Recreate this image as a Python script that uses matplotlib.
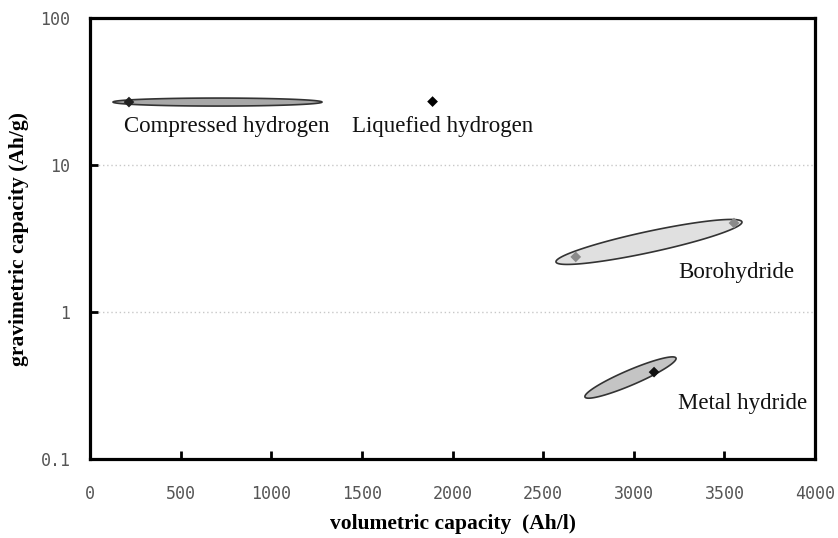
import numpy as np
import matplotlib
matplotlib.use("Agg")
import matplotlib.pyplot as plt
from matplotlib.patches import Polygon

# ---- data ----
point_labels = ["Compressed hydrogen", "Liquefied hydrogen", "Borohydride", "Borohydride", "Metal hydride"]
point_x = [215, 1890, 2680, 3553, 3112]
point_y = [26.8, 27.0, 2.37, 4.03, 0.39]
point_colors = ["#222222", "#000000", "#8a8a8a", "#8a8a8a", "#111111"]

# ellipse regions: endpoints (x1, y1) -> (x2, y2)
region_names = ["Compressed hydrogen", "Borohydride", "Metal hydride"]
region_x1 = [127, 2571, 2731]
region_y1 = [26.8, 2.19, 0.264]
region_x2 = [1280, 3597, 3233]
region_y2 = [26.8, 4.10, 0.486]

label_texts = ["Compressed hydrogen", "Liquefied hydrogen", "Borohydride", "Metal hydride"]
label_x = [188, 1446, 3244, 3244]
label_y = [18.4, 18.4, 1.87, 0.237]

x_ticks = [0, 500, 1000, 1500, 2000, 2500, 3000, 3500, 4000]
y_ticks = [0.1, 1, 10, 100]
y_ticklabels = ["0.1", "1", "10", "100"]

# ---- styles ----
region_half_px = [4.0, 10.5, 7.5]
region_fill = ["#a8a8a8", "#e0e0e0", "#c4c4c4"]

fig = plt.figure(figsize=(8.38, 5.38), dpi=100)
ax = fig.add_axes([90/838, 1 - 459/538, (815-90)/838, (459-18)/538])
ax.set_yscale("log")
ax.set_xlim(0, 4000)
ax.set_ylim(0.1, 100)

for s in ax.spines.values():
    s.set_linewidth(2.3)
    s.set_color("black")

ax.set_xticks(x_ticks)
ax.set_yticks(y_ticks)
ax.set_yticklabels(y_ticklabels)
ax.yaxis.set_minor_locator(matplotlib.ticker.NullLocator())
ax.tick_params(axis="both", direction="in", length=6, width=2.0, color="black",
               labelcolor="#555555", labelsize=12)
ax.tick_params(axis="x", pad=19)
ax.tick_params(axis="y", pad=14)
for lab in ax.get_xticklabels() + ax.get_yticklabels():
    lab.set_family("DejaVu Sans Mono")

for yv in [1, 10]:
    ax.axhline(yv, color="#c8c8c8", linestyle=(0, (1, 2)), linewidth=1.0, zorder=0)

fig.canvas.draw()

# ellipses built in display space then mapped back to data
t = np.linspace(0, 2*np.pi, 200)
for x1, y1, x2, y2, hw, fc in zip(region_x1, region_y1, region_x2, region_y2,
                                  region_half_px, region_fill):
    p1 = ax.transData.transform((x1, y1))
    p2 = ax.transData.transform((x2, y2))
    c = (p1 + p2) / 2
    d = p2 - p1
    a = np.hypot(*d) / 2
    ang = np.arctan2(d[1], d[0])
    ex = a*np.cos(t)
    ey = hw*np.sin(t)
    px = c[0] + ex*np.cos(ang) - ey*np.sin(ang)
    py = c[1] + ex*np.sin(ang) + ey*np.cos(ang)
    pts = ax.transData.inverted().transform(np.column_stack([px, py]))
    ax.add_patch(Polygon(pts, closed=True, facecolor=fc, edgecolor="#333333",
                         linewidth=1.2, zorder=2))

ax.scatter(point_x, point_y, marker="D", s=30, c=point_colors, zorder=3, linewidths=0)

for txt, x, y in zip(label_texts, label_x, label_y):
    ax.text(x, y, txt, ha="left", va="center", fontsize=16.5,
            family="Liberation Serif", color="#111111", zorder=4)

ax.set_xlabel("volumetric capacity  (Ah/l)", family="Liberation Serif",
              fontweight="bold", fontsize=15.5, labelpad=8)
ax.set_ylabel("gravimetric capacity (Ah/g)", family="Liberation Serif",
              fontweight="bold", fontsize=15.5, labelpad=8)

fig.savefig("out.png", dpi=100)
